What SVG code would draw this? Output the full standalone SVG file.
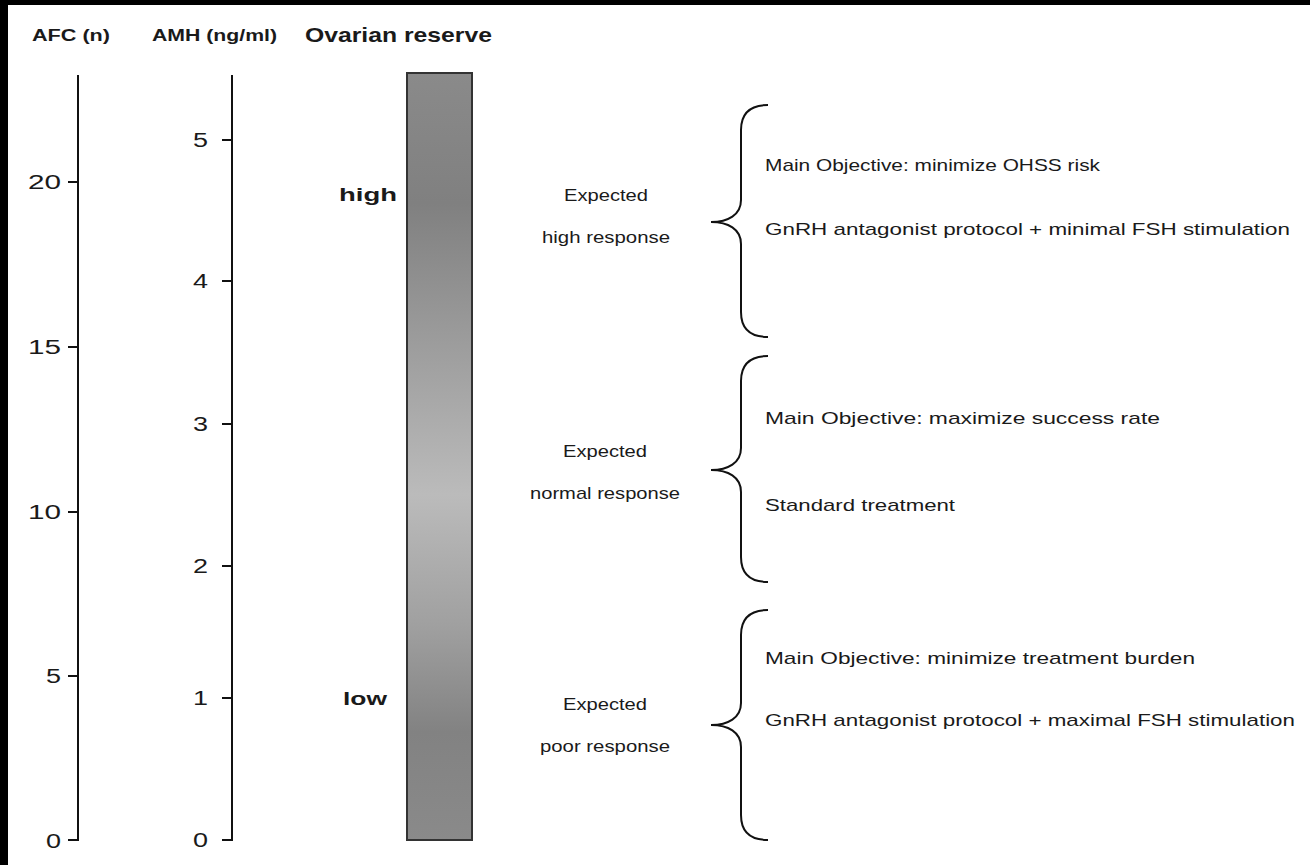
<svg xmlns="http://www.w3.org/2000/svg" width="1310" height="865" viewBox="0 0 1310 865">
<defs>
<linearGradient id="bar" x1="0" y1="0" x2="0" y2="1">
<stop offset="0" stop-color="#8a8a8a"/>
<stop offset="0.17" stop-color="#808080"/>
<stop offset="0.35" stop-color="#9c9c9c"/>
<stop offset="0.55" stop-color="#bbbbbb"/>
<stop offset="0.72" stop-color="#a0a0a0"/>
<stop offset="0.86" stop-color="#828282"/>
<stop offset="1" stop-color="#8a8a8a"/>
</linearGradient>
<style>
.t{font-family:"Liberation Sans",Arial,sans-serif;fill:#1a1a1a}
.h{font-weight:bold;font-size:16px}
.n{font-size:20px}
.lab{font-size:17px;text-anchor:middle}
.r{font-size:17px}
.ax{stroke:#111;stroke-width:2;fill:none}
.br{stroke:#111;stroke-width:2;fill:none}
</style>
</defs>
<rect x="0" y="0" width="1310" height="865" fill="#fff"/>
<rect x="0" y="0" width="8" height="865" fill="#000"/>
<rect x="0" y="0" width="1310" height="5" fill="#000"/>

<g id="headers">
<text class="t h" x="32" y="41" textLength="78" lengthAdjust="spacingAndGlyphs">AFC (n)</text>
<text class="t h" x="152" y="41" textLength="125" lengthAdjust="spacingAndGlyphs">AMH (ng/ml)</text>
<text class="t" x="305" y="42" font-size="21" font-weight="bold" textLength="187" lengthAdjust="spacingAndGlyphs">Ovarian reserve</text>
</g>

<g id="afc-axis">
<path class="ax" d="M78,75 V840 H68 M68,182 H78 M68,347 H78 M68,512 H78 M68,676 H78"/>
<g class="t n" text-anchor="end">
<text x="61" y="189" textLength="33" lengthAdjust="spacingAndGlyphs">20</text>
<text x="61" y="354" textLength="33" lengthAdjust="spacingAndGlyphs">15</text>
<text x="61" y="519" textLength="33" lengthAdjust="spacingAndGlyphs">10</text>
<text x="61" y="683" textLength="15" lengthAdjust="spacingAndGlyphs">5</text>
<text x="61" y="848" textLength="15" lengthAdjust="spacingAndGlyphs">0</text>
</g>
</g>

<g id="amh-axis">
<path class="ax" d="M232,75 V840 H222 M222,140 H232 M222,281 H232 M222,424 H232 M222,566 H232 M222,698 H232"/>
<g class="t n" text-anchor="end">
<text x="208" y="147" textLength="15" lengthAdjust="spacingAndGlyphs">5</text>
<text x="208" y="288" textLength="15" lengthAdjust="spacingAndGlyphs">4</text>
<text x="208" y="431" textLength="15" lengthAdjust="spacingAndGlyphs">3</text>
<text x="208" y="573" textLength="15" lengthAdjust="spacingAndGlyphs">2</text>
<text x="208" y="705" textLength="15" lengthAdjust="spacingAndGlyphs">1</text>
<text x="208" y="847" textLength="15" lengthAdjust="spacingAndGlyphs">0</text>
</g>
</g>

<g id="reserve-bar">
<rect x="407" y="73" width="65" height="767" fill="url(#bar)" stroke="#333" stroke-width="2"/>
<text class="t" x="339" y="201" font-size="19" font-weight="bold" textLength="58" lengthAdjust="spacingAndGlyphs">high</text>
<text class="t" x="343" y="705" font-size="19" font-weight="bold" textLength="44" lengthAdjust="spacingAndGlyphs">low</text>
</g>

<g id="response-high">
<text class="t lab" x="606" y="201" textLength="84" lengthAdjust="spacingAndGlyphs">Expected</text>
<text class="t lab" x="606" y="243" textLength="128" lengthAdjust="spacingAndGlyphs">high response</text>
</g>
<g id="response-normal">
<text class="t lab" x="605" y="457" textLength="84" lengthAdjust="spacingAndGlyphs">Expected</text>
<text class="t lab" x="605" y="499" textLength="150" lengthAdjust="spacingAndGlyphs">normal response</text>
</g>
<g id="response-poor">
<text class="t lab" x="605" y="710" textLength="84" lengthAdjust="spacingAndGlyphs">Expected</text>
<text class="t lab" x="605" y="752" textLength="130" lengthAdjust="spacingAndGlyphs">poor response</text>
</g>

<g id="connectors">
<path class="br" d="M768,105 C750,105 741,113 741,130 L741,200 C741,215 728,222 711,222 C728,222 741,229 741,244 L741,312 C741,329 750,337 768,337"/>
<path class="br" d="M768,356 C750,356 741,364 741,381 L741,448 C741,463 728,470 711,470 C728,470 741,477 741,492 L741,557 C741,574 750,582 768,582"/>
<path class="br" d="M768,610 C750,610 741,618 741,635 L741,703 C741,718 728,725 711,725 C728,725 741,732 741,747 L741,815 C741,832 750,840 768,840"/>
</g>

<g id="treatment-high">
<text class="t r" x="765" y="171" textLength="335" lengthAdjust="spacingAndGlyphs">Main Objective: minimize OHSS risk</text>
<text class="t r" x="765" y="235" textLength="525" lengthAdjust="spacingAndGlyphs">GnRH antagonist protocol + minimal FSH stimulation</text>
</g>
<g id="treatment-normal">
<text class="t r" x="765" y="424" textLength="395" lengthAdjust="spacingAndGlyphs">Main Objective: maximize success rate</text>
<text class="t r" x="765" y="511" textLength="190" lengthAdjust="spacingAndGlyphs">Standard treatment</text>
</g>
<g id="treatment-poor">
<text class="t r" x="765" y="664" textLength="430" lengthAdjust="spacingAndGlyphs">Main Objective: minimize treatment burden</text>
<text class="t r" x="765" y="726" textLength="530" lengthAdjust="spacingAndGlyphs">GnRH antagonist protocol + maximal FSH stimulation</text>
</g>
</svg>
